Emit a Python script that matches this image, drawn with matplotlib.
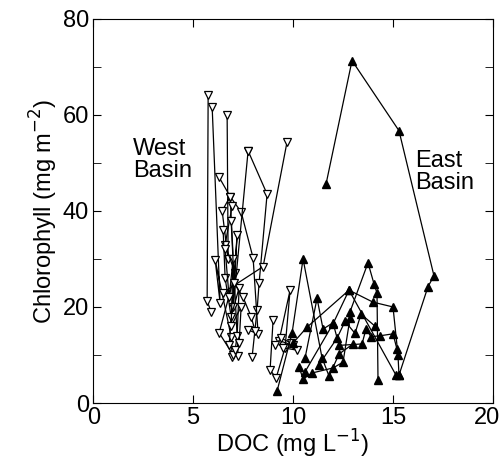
import matplotlib
matplotlib.use("Agg")
import matplotlib.pyplot as plt
import matplotlib.transforms as mtransforms
from matplotlib.ticker import MultipleLocator

plt.rcParams['font.family'] = ['Liberation Sans', 'DejaVu Sans']

# West basin series (open down triangles)
west_x = [
    [5.75, 5.7, 5.9],
    [5.95, 6.35, 6.1, 6.9, 6.95],
    [6.7, 6.75, 6.45, 6.85, 7.25],
    [7.75, 8.7, 8.3, 8.2, 7.95],
    [9.7, 8.5, 6.5],
    [6.3, 6.85, 7.4, 8.0, 8.25, 7.75],
    [6.95, 6.6, 7.1, 6.3, 7.0],
    [7.75, 7.0, 7.2, 6.8],
    [9.0, 8.85, 9.15, 9.6, 9.85, 9.3, 10.0],
    [6.5, 6.6, 6.9, 7.3, 7.2, 7.1],
    [6.6, 6.8, 7.0, 6.9, 7.4, 7.3],
    [6.9, 7.05, 7.5, 7.9, 8.1],
    [9.1, 9.4, 9.9, 10.2, 9.5],
]
west_y = [
    [64.2, 21.2, 19.0],
    [61.7, 20.8, 29.8, 13.8, 9.6],
    [60.0, 30.0, 40.0, 43.0, 9.8],
    [52.5, 43.5, 25.0, 19.4, 9.6],
    [54.4, 28.4, 23.0],
    [47.0, 43.0, 39.8, 30.2, 14.4, 15.2],
    [41.0, 33.0, 27.0, 14.6, 10.0],
    [52.5, 20.0, 35.0, 12.0],
    [17.3, 6.9, 5.2, 11.5, 23.5, 13.0, 12.0],
    [36.0, 26.0, 18.0, 24.0, 14.0, 11.0],
    [32.0, 22.0, 30.0, 16.0, 20.0, 12.5],
    [38.0, 25.0, 22.0, 18.0, 15.0],
    [12.0, 13.5, 12.5, 11.0, 11.5],
]

# East basin series (filled up triangles)
east_x = [
    [11.65, 12.95, 15.3, 17.05, 16.75, 15.3],
    [9.2, 9.95, 10.5, 11.45, 11.8, 12.3, 13.0],
    [10.3, 10.5, 10.95, 12.0, 12.5, 12.85, 12.85, 13.75, 14.05, 14.2, 14.25],
    [10.0, 10.7, 12.8, 14.0, 15.0, 15.25, 15.3],
    [10.6, 11.2, 11.5, 12.0, 12.3, 13.45, 13.65, 13.9, 14.35, 15.0, 15.2],
    [10.6, 12.0, 12.8, 15.15],
    [11.3, 12.2, 12.6, 13.1, 13.4, 14.1],
]
east_y = [
    [45.6, 71.3, 56.7, 26.5, 24.2, 5.8],
    [2.5, 14.6, 30.0, 9.4, 5.6, 10.2, 12.3],
    [7.5, 5.0, 6.25, 7.3, 8.5, 17.7, 19.0, 29.2, 24.8, 22.9, 4.8],
    [12.5, 15.8, 23.5, 21.0, 20.0, 10.0, 5.8],
    [9.4, 21.8, 15.4, 16.7, 12.0, 12.3, 15.4, 13.8, 14.0, 14.4, 11.2],
    [6.5, 16.5, 23.5, 5.8],
    [8.0, 13.5, 17.0, 14.5, 18.5, 16.0],
]

x_ticks = [0, 5, 10, 15, 20]

fig = plt.figure(figsize=(5.04, 4.59), dpi=100)
ax = fig.add_axes([0.185, 0.122, 0.793, 0.837])

for xs, ys in zip(west_x, west_y):
    ax.plot(xs, ys, color='black', lw=0.9, marker='v', ms=5.5,
            mfc='white', mec='black', mew=0.9)
for xs, ys in zip(east_x, east_y):
    ax.plot(xs, ys, color='black', lw=0.9, marker='^', ms=5.5,
            mfc='black', mec='black')

ax.text(2.0, 50.6, 'West\nBasin', fontsize=17, va='center', ha='left', linespacing=0.95)
ax.text(16.1, 48.1, 'East\nBasin', fontsize=17, va='center', ha='left', linespacing=0.95)

ax.set_xlim(0, 20)
ax.set_ylim(0, 80)
ax.set_xticks(x_ticks)
ax.yaxis.set_major_locator(MultipleLocator(20))
ax.yaxis.set_minor_locator(MultipleLocator(10))
ax.tick_params(which='both', direction='in', top=True, right=True, labelsize=17, pad=3)
ax.tick_params(which='major', length=6)
ax.tick_params(which='minor', length=6)

ax.set_xlabel('DOC (mg L$^{-1}$)', fontsize=17, labelpad=-1)
ax.set_ylabel('Chlorophyll (mg m$^{-2}$)', fontsize=17, labelpad=2)

# keep the "20" label inside the figure
lab = ax.xaxis.get_major_ticks()[-1].label1
lab.set_transform(lab.get_transform() +
                  mtransforms.ScaledTranslation(-4 / 72, 0, fig.dpi_scale_trans))

fig.savefig('out.png', dpi=100)
